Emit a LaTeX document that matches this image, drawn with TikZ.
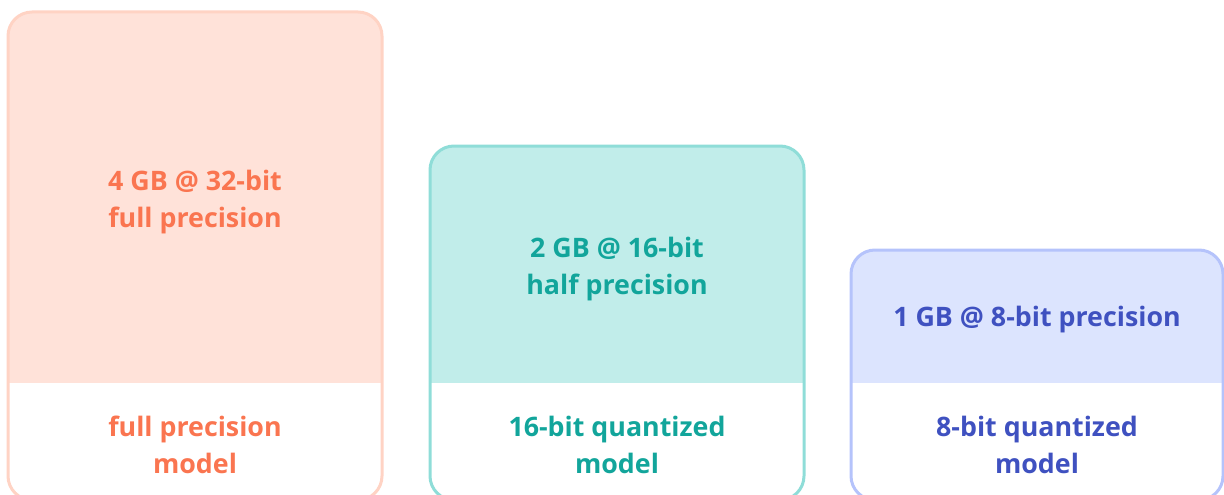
\documentclass[tikz,border=0pt]{standalone}
\usepackage{fontspec}
\setmainfont{Open Sans}
\usepackage{tikz}
\definecolor{fullbg}{HTML}{FFE2D9}
\definecolor{fullline}{HTML}{FFD3C4}
\definecolor{fulltext}{HTML}{FA7550}
\definecolor{halfbg}{HTML}{C1EDEA}
\definecolor{halfline}{HTML}{8FDDD8}
\definecolor{halftext}{HTML}{12A59B}
\definecolor{int8bg}{HTML}{DCE4FE}
\definecolor{int8line}{HTML}{B5C3FB}
\definecolor{int8text}{HTML}{3F51C0}

\begin{document}
\begin{tikzpicture}[
    x=1pt, y=-1pt,
    panel/.style={rounded corners=24pt, line width=3pt},
    lbl/.style={font=\bfseries\fontsize{26.8}{37}\selectfont, align=center}
]
\useasboundingbox (0,0) rectangle (1224,495);

% full precision
\begin{scope}
\clip[rounded corners=24pt] (8,12) rectangle (382,500);
\fill[fullbg] (8,12) rectangle (382,383);
\end{scope}
\draw[panel, draw=fullline] (8,12) rectangle (382,500);
\node[lbl, text=fulltext] (fullmem) at (195,202) {4 GB @ 32-bit\\full precision};
\node[lbl, text=fulltext] (fullname) at (195,445) {full precision\\model};

% 16-bit
\begin{scope}
\clip[rounded corners=24pt] (430,146) rectangle (804,500);
\fill[halfbg] (430,146) rectangle (804,383);
\end{scope}
\draw[panel, draw=halfline] (430,146) rectangle (804,500);
\node[lbl, text=halftext] (halfmem) at (617,269) {2 GB @ 16-bit\\half precision};
\node[lbl, text=halftext] (halfname) at (617,445) {16-bit quantized\\model};

% 8-bit
\begin{scope}
\clip[rounded corners=24pt] (851,250) rectangle (1223,500);
\fill[int8bg] (851,250) rectangle (1223,383);
\end{scope}
\draw[panel, draw=int8line] (851,250) rectangle (1223,500);
\node[lbl, text=int8text] (int8mem) at (1037,320) {1 GB @ 8-bit precision};
\node[lbl, text=int8text] (int8name) at (1037,445) {8-bit quantized\\model};
\end{tikzpicture}
\end{document}
